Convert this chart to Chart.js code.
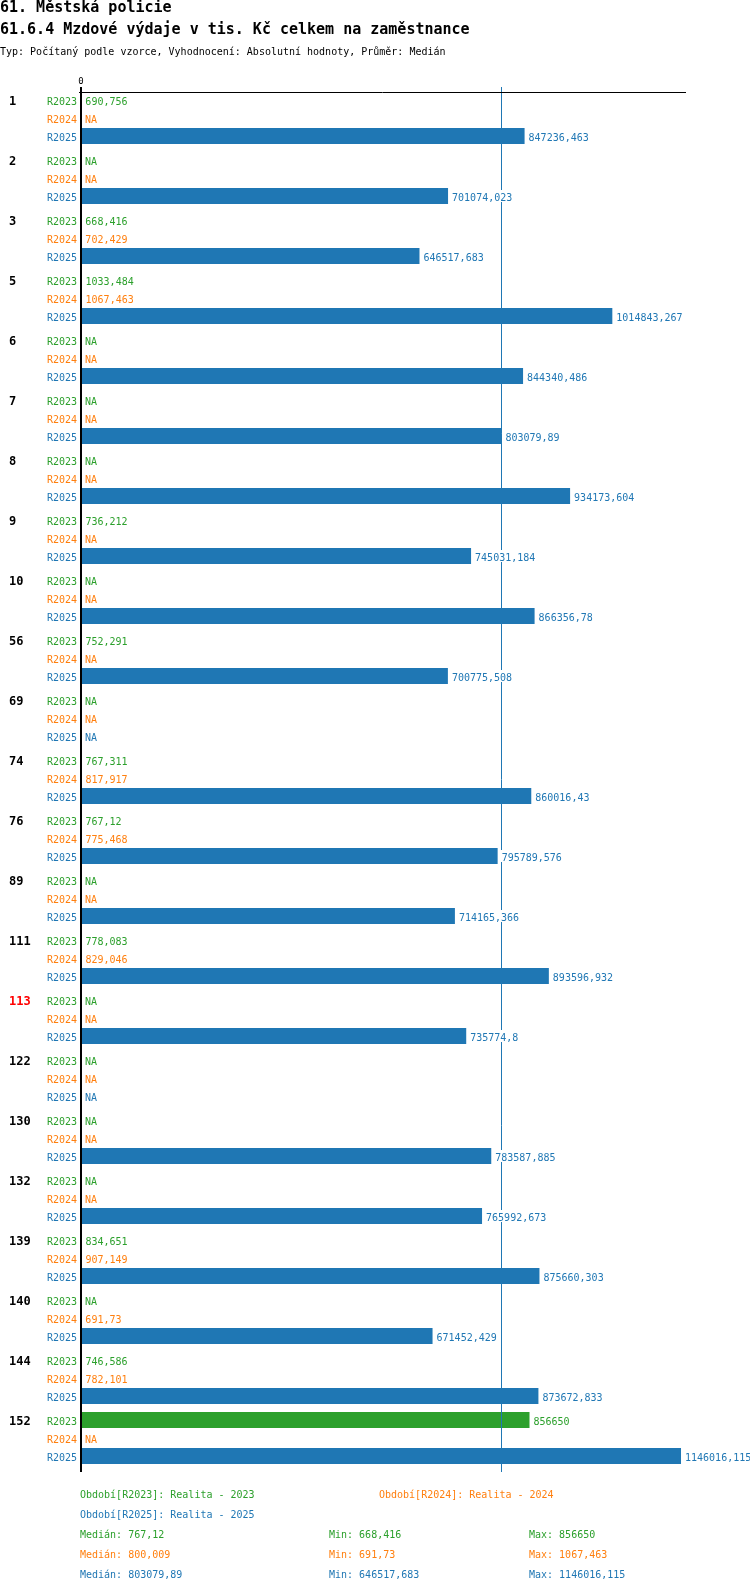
<!DOCTYPE html>
<html><head><meta charset="utf-8">
<script src="https://cdn.jsdelivr.net/npm/chart.js@4"></script>
<style>
body{margin:0;background:#fff;}
#wrap{position:relative;width:750px;height:1592px;overflow:hidden;}
canvas{position:absolute;left:0;top:0;}
.t{position:absolute;white-space:pre;font-family:"DejaVu Sans Mono",monospace;}
.h{font-weight:bold;font-size:15px;line-height:15px;color:#000;}
.s{font-size:10px;line-height:10px;}
</style></head><body>
<div id="wrap">
<canvas id="c" width="750" height="1592"></canvas>
<div class="t h" style="left:0;top:0">61. Městská policie</div>
<div class="t h" style="left:0;top:22px">61.6.4 Mzdové výdaje v tis. Kč celkem na zaměstnance</div>
<div class="t s" style="left:0;top:46.5px;color:#000">Typ: Počítaný podle vzorce, Vyhodnocení: Absolutní hodnoty, Průměr: Medián</div>
<div id="legend"></div>
</div>
<script>
const categories = ['1','2','3','5','6','7','8','9','10','56','69','74','76','89','111','113','122','130','132','139','140','144','152'];
const highlighted = ['113'];
const seriesNames = ['R2023','R2024','R2025'];
const periodLabels = ['Realita - 2023','Realita - 2024','Realita - 2025'];
const r2023 = [690.756,null,668.416,1033.484,null,null,null,736.212,null,752.291,null,767.311,767.12,null,778.083,null,null,null,null,834.651,null,746.586,856650];
const r2024 = [null,null,702.429,1067.463,null,null,null,null,null,null,null,817.917,775.468,null,829.046,null,null,null,null,907.149,691.73,782.101,null];
const r2025 = [847236.463,701074.023,646517.683,1014843.267,844340.486,803079.89,934173.604,745031.184,866356.78,700775.508,null,860016.43,795789.576,714165.366,893596.932,735774.8,null,783587.885,765992.673,875660.303,671452.429,873672.833,1146016.115];
const colors = ['#2ca02c','#ff7f0e','#1f77b4'];
const xMax = 1155550;

const series = [r2023, r2024, r2025];
const FONT = '"DejaVu Sans Mono", monospace';

function fmt(v){ return String(Math.round(v*1000)/1000).replace('.', ','); }
function vals(a){ return a.filter(v => v !== null); }
function median(a){ const s = vals(a).sort((p,q)=>p-q); const n = s.length; return n%2 ? s[(n-1)/2] : (s[n/2-1]+s[n/2])/2; }

const overlay = {
  id:'overlay',
  afterDatasetsDraw(chart){
    const ctx = chart.ctx, xs = chart.scales.x, ys = chart.scales.y;
    const x0 = xs.getPixelForValue(0);
    const lineTop = 87, lineBottom = 1472;
    ctx.save();
    // median line of R2025
    const mx = Math.round(xs.getPixelForValue(median(r2025))) + 0.5;
    ctx.strokeStyle = colors[2]; ctx.lineWidth = 1;
    ctx.beginPath(); ctx.moveTo(mx, lineTop); ctx.lineTo(mx, lineBottom); ctx.stroke();
    // top axis line
    ctx.strokeStyle = '#000';
    ctx.beginPath(); ctx.moveTo(x0 - 2, 92.5); ctx.lineTo(xs.right, 92.5); ctx.stroke();
    // zero axis
    ctx.fillStyle = '#000';
    ctx.fillRect(Math.round(x0) - 1, lineTop, 2, lineBottom - lineTop);
    // zero tick label
    ctx.font = '9px ' + FONT; ctx.textAlign = 'center'; ctx.textBaseline = 'alphabetic';
    ctx.fillText('0', x0, 84);
    // rows
    const band = (ys.bottom - ys.top) / categories.length;
    const slot = band * 0.9 / 3;
    categories.forEach((cat, i) => {
      const cy = ys.getPixelForValue(i);
      ctx.font = 'bold 12px ' + FONT; ctx.textAlign = 'left';
      ctx.fillStyle = highlighted.includes(cat) ? '#ff0000' : '#000';
      ctx.fillText(cat, 9, cy - slot + 5);
      for (let d = 0; d < 3; d++) {
        const ry = cy + (d - 1) * slot;
        ctx.font = '10px ' + FONT;
        ctx.fillStyle = colors[d]; ctx.textAlign = 'right';
        ctx.fillText(seriesNames[d], 77, ry + 5);
        const v = series[d][i];
        const txt = v === null ? 'NA' : fmt(v);
        const tx = (v === null ? x0 : Math.max(x0, xs.getPixelForValue(v))) + 4;
        ctx.textAlign = 'left';
        const w = ctx.measureText(txt).width;
        ctx.fillStyle = '#fff';
        ctx.fillRect(tx - 1, ry - 6, w + 2, 12);
        ctx.fillStyle = colors[d];
        ctx.fillText(txt, tx, ry + 5);
      }
    });
    ctx.restore();
  }
};

new Chart(document.getElementById('c'), {
  type: 'bar',
  data: {
    labels: categories,
    datasets: seriesNames.map((n, d) => ({
      label: n, data: series[d], backgroundColor: colors[d],
      categoryPercentage: 0.9, barPercentage: 16/18
    }))
  },
  options: {
    indexAxis: 'y', responsive: false, animation: false, devicePixelRatio: 1,
    layout: { padding: { left: 81, right: 64, top: 88, bottom: 124 } },
    scales: { x: { display: false, min: 0, max: xMax }, y: { display: false } },
    plugins: { legend: { display: false }, tooltip: { enabled: false } }
  },
  plugins: [overlay]
});

// legend / statistics
const leg = document.getElementById('legend');
function addText(txt, left, top, color){
  const el = document.createElement('div');
  el.className = 't s'; el.textContent = txt;
  el.style.left = left + 'px'; el.style.top = top + 'px'; el.style.color = color;
  leg.appendChild(el);
}
addText('Období[' + seriesNames[0] + ']: ' + periodLabels[0], 80, 1489.5, colors[0]);
addText('Období[' + seriesNames[1] + ']: ' + periodLabels[1], 379, 1489.5, colors[1]);
addText('Období[' + seriesNames[2] + ']: ' + periodLabels[2], 80, 1509.5, colors[2]);
series.forEach((s, d) => {
  const top = 1529.5 + d * 20;
  addText('Medián: ' + fmt(median(s)), 80, top, colors[d]);
  addText('Min: ' + fmt(Math.min(...vals(s))), 329, top, colors[d]);
  addText('Max: ' + fmt(Math.max(...vals(s))), 529, top, colors[d]);
});
</script>
</body></html>
